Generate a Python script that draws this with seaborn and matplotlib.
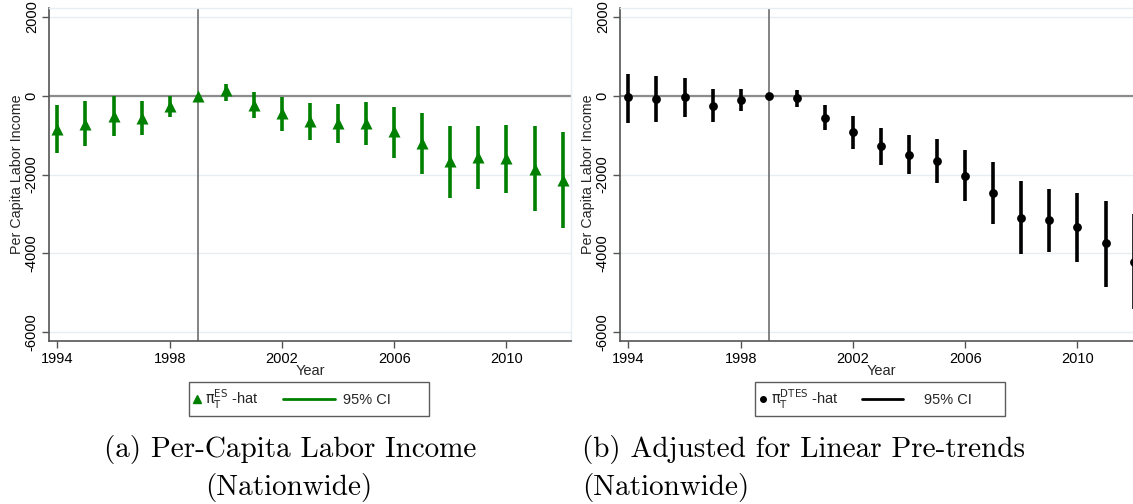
import matplotlib
matplotlib.use("Agg")
import matplotlib.pyplot as plt
import numpy as np
import pandas as pd
import seaborn as sns
from matplotlib.lines import Line2D
from matplotlib.legend_handler import HandlerLine2D

years = list(range(1994, 2013))

# (a) event-study estimates, per-capita labor income
es_hat = [-851, -723, -511, -553, -255, 0, 136, -230, -443, -638, -689, -704,
          -901, -1190, -1666, -1564, -1581, -1853, -2134]
es_lo = [-1463, -1277, -1013, -996, -545, np.nan, -145, -553, -885, -1112, -1199,
         -1258, -1571, -1980, -2602, -2363, -2466, -2934, -3358]
es_hi = [-230, -145, -17, -128, 0, np.nan, 306, 85, -42, -179, -212, -153,
         -281, -425, -757, -774, -731, -774, -927]

# (b) adjusted for linear pre-trends
dtes_hat = [-43, -77, -26, -255, -102, 0, -60, -562, -930, -1283, -1495, -1666,
            -2031, -2465, -3103, -3154, -3341, -3750, -4218]
dtes_lo = [-681, -672, -536, -664, -391, np.nan, -281, -877, -1360, -1750, -1980,
           -2219, -2679, -3256, -4021, -3980, -4218, -4855, -5425]
dtes_hi = [561, 493, 451, 179, 179, np.nan, 145, -238, -515, -806, -995, -1105,
           -1367, -1684, -2177, -2364, -2467, -2679, -3001]

yticks = [-6000, -4000, -2000, 0, 2000]
xticks = [1994, 1998, 2002, 2006, 2010]

sns.set_style("white")
plt.rcParams["font.family"] = ["Liberation Sans", "DejaVu Sans"]

fig = plt.figure(figsize=(11.33, 5.04), dpi=100)
W, H = 1133, 504
ax1 = fig.add_axes([49 / W, 1 - 341 / H, 522 / W, 333 / H])
ax2 = fig.add_axes([620 / W, 1 - 341 / H, 522 / W, 333 / H])

green = "#008000"
grid_c = "#e6eef1"


def draw_panel(ax, hat, lo, hi, color, marker, msize):
    df = pd.DataFrame({"year": years, "hat": hat, "lo": lo, "hi": hi})
    ax.set_xlim(1993.7, 2012.3)
    ax.set_ylim(-6230, 2230)
    for y in yticks:
        ax.axhline(y, color=grid_c, lw=1.0, zorder=0)
    ax.axhline(0, color="#8c8c8c", lw=1.6, zorder=1)
    ax.axvline(1999, color="#6e6e6e", lw=1.2, zorder=1)
    ci = df.dropna()
    ax.vlines(ci["year"], ci["lo"], ci["hi"], color=color, lw=2.6, zorder=2)
    sns.scatterplot(data=df, x="year", y="hat", ax=ax, color=color, marker=marker,
                    s=msize, edgecolor=color, linewidth=0, zorder=3, legend=False)
    ax.tick_params(axis="both", which="major", direction="out", length=5, width=1,
                   color="#555555", labelsize=10.5, labelcolor="black", pad=3,
                   left=True, bottom=True)
    ax.tick_params(axis="y", pad=4.5)
    ax.set_xticks(xticks)
    ax.set_yticks(yticks)
    ax.set_yticklabels([str(v) for v in yticks], rotation=90,
                       rotation_mode="anchor", ha="center", va="baseline")
    for s in ["left", "bottom"]:
        ax.spines[s].set_color("#555555")
        ax.spines[s].set_linewidth(1.2)
    for s in ["top", "right"]:
        ax.spines[s].set_color(grid_c)
        ax.spines[s].set_linewidth(1.0)
    ax.set_xlabel("Year", fontsize=10.5)
    ax.set_ylabel("Per Capita Labor Income", fontsize=10.3)
    ax.xaxis.set_label_coords(0.5, -0.068)
    ax.yaxis.set_label_coords(-0.047, 0.5)


draw_panel(ax1, es_hat, es_lo, es_hi, green, "^", 75)
draw_panel(ax2, dtes_hat, dtes_lo, dtes_hi, "black", "o", 40)

LEG_FS = 10.5
PX = 0.72  # points per pixel at 100 dpi


class LeftMarker(HandlerLine2D):
    def create_artists(self, legend, orig_handle, xdescent, ydescent, width,
                       height, fontsize, trans):
        arts = super().create_artists(legend, orig_handle, xdescent, ydescent,
                                      width, height, fontsize, trans)
        for a in arts:
            y = np.asarray(a.get_ydata())
            a.set_data(np.full(len(y), 2.2 - xdescent), y)
        return arts


class LongLine(HandlerLine2D):
    def __init__(self, length_px, end_px):
        super().__init__()
        self.length_px = length_px
        self.end_px = end_px

    def create_artists(self, legend, orig_handle, xdescent, ydescent, width,
                       height, fontsize, trans):
        arts = super().create_artists(legend, orig_handle, xdescent, ydescent,
                                      width, height, fontsize, trans)
        y0 = np.asarray(arts[0].get_ydata())[0]
        x1 = self.end_px * PX - xdescent
        arts[0].set_data([x1 - self.length_px * PX, x1], [y0, y0])
        return arts


def add_legend(color, marker, ms, label, cx, line_len, line_end, spaces):
    pt = Line2D([], [], color=color, marker=marker, ls="none", ms=ms)
    ln = Line2D([], [], color=color, lw=2)
    leg = fig.legend([pt, ln], [label, "95% CI" + " " * spaces], loc="center",
                     bbox_to_anchor=(cx / W, 1 - 399 / H), ncol=2,
                     fontsize=LEG_FS, frameon=True, fancybox=False,
                     handlelength=0.4, columnspacing=5.1, handletextpad=0.35,
                     borderpad=0.35, borderaxespad=0,
                     handler_map={pt: LeftMarker(), ln: LongLine(line_len, line_end)})
    leg.get_frame().set_edgecolor("#333333")
    leg.get_frame().set_linewidth(1.0)


add_legend(green, "^", 6, r"$\mathrm{\pi}_{\mathrm{T}}^{\mathrm{ES}}$ -hat", 309, 52, 2, 8)
add_legend("black", "o", 4, r"$\mathrm{\pi}_{\mathrm{T}}^{\mathrm{DTES}}$ -hat", 880, 41, -10, 7)

cap = dict(fontsize=21, family="cmr10", color="black")
fig.text(290 / W, 1 - 450 / H, "(a) Per-Capita Labor Income", ha="center", va="center", **cap)
fig.text(289 / W, 1 - 487 / H, "(Nationwide)", ha="center", va="center", **cap)
fig.text(582 / W, 1 - 450 / H, "(b) Adjusted for Linear Pre-trends", ha="left", va="center", **cap)
fig.text(582 / W, 1 - 487 / H, "(Nationwide)", ha="left", va="center", **cap)

fig.savefig("out.png", dpi=100)
